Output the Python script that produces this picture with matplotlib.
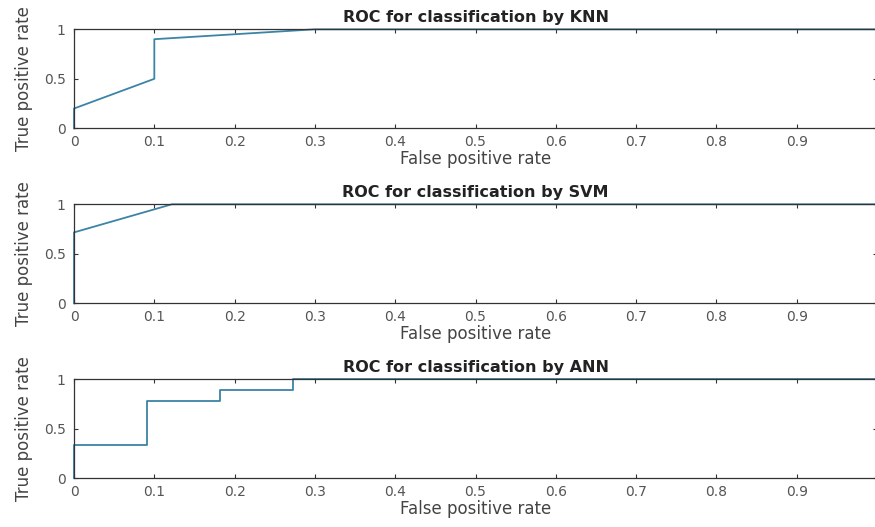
import numpy as np
import matplotlib
matplotlib.use('Agg')
import matplotlib.pyplot as plt

plt.rcParams['font.family'] = ['DejaVu Sans']

# roc points
knn_fpr = [0, 0, 0.1, 0.1, 0.3, 1.0]
knn_tpr = [0, 0.2, 0.5, 0.9, 1.0, 1.0]

svm_fpr = [0, 0, 0.122, 1.0]
svm_tpr = [0, 0.716, 1.0, 1.0]

ann_fpr = [0, 0, 0.0909, 0.0909, 0.1818, 0.1818, 0.2727, 0.2727, 1.0]
ann_tpr = [0, 0.333, 0.333, 0.778, 0.778, 0.889, 0.889, 1.0, 1.0]

titles = ['ROC for classification by KNN', 'ROC for classification by SVM',
          'ROC for classification by ANN']
xticks = [0, 0.1, 0.2, 0.3, 0.4, 0.5, 0.6, 0.7, 0.8, 0.9]
yticks = [0, 0.5, 1]

fig = plt.figure(figsize=(8.75, 5.27), dpi=100)
bottoms = [0.7565, 0.4245, 0.0924]
curves = [(knn_fpr, knn_tpr), (svm_fpr, svm_tpr), (ann_fpr, ann_tpr)]

for b, (fx, fy), t in zip(bottoms, curves, titles):
    ax = fig.add_axes([0.0846, b, 0.9177, 0.1879])
    ax.plot(fx, fy, color='#3b84a6', lw=1.3, clip_on=False)
    ax.set_xlim(0, 1)
    ax.set_ylim(0, 1)
    ax.set_xticks(xticks)
    ax.set_xticklabels(['0', '0.1', '0.2', '0.3', '0.4', '0.5', '0.6', '0.7', '0.8', '0.9'])
    ax.set_yticks(yticks)
    ax.set_yticklabels(['0', '0.5', '1'])
    ax.tick_params(direction='in', length=3, width=0.8, colors='#333333',
                   labelcolor='#555555', labelsize=10, top=True, right=True)
    ax.tick_params(axis='x', pad=5)
    ax.tick_params(axis='y', pad=6)
    for s in ax.spines.values():
        s.set_color('#333333')
        s.set_linewidth(0.9)
    ax.set_xlabel('False positive rate', fontsize=12, color='#444444', labelpad=0.5)
    ax.set_ylabel('True positive rate', fontsize=12, color='#444444', labelpad=8)
    ax.set_title(t, fontsize=11.5, fontweight='bold', color='#222222', pad=5)

fig.savefig('out.png', dpi=100)
